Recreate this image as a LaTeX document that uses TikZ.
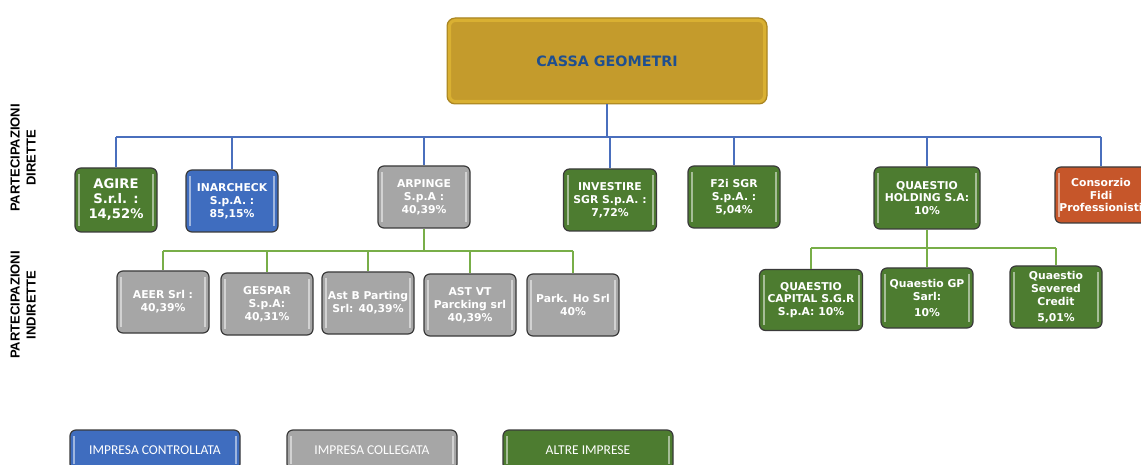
\documentclass[tikz,border=0pt]{standalone}
\usepackage{fontspec}
\setmainfont{DejaVu Sans}
\newfontfamily\legendfont{Carlito}
\newfontfamily\sidefont{Liberation Sans}
\usetikzlibrary{calc}
\definecolor{firmgreen}{HTML}{4D7C30}
\definecolor{firmblue}{HTML}{3F6DBF}
\definecolor{firmgray}{HTML}{A6A6A6}
\definecolor{firmorange}{HTML}{C6562A}
\definecolor{boxedge}{HTML}{3A3A3A}
\definecolor{cassagold}{HTML}{C49B2C}
\definecolor{cassalight}{HTML}{D9B032}
\definecolor{cassaedge}{HTML}{A8841F}
\definecolor{titleblue}{HTML}{1F4F8F}
\definecolor{linkblue}{HTML}{4A6FBD}
\definecolor{linkgreen}{HTML}{78AE48}
\tikzset{
    firm/.style = {
        draw=boxedge,
        line width=1.2pt,
        rounded corners=6pt,
        text=white,
        align=center,
        font=\bfseries\fontsize{10.8}{12.8}\selectfont,
        minimum width=92pt,
        minimum height=62pt,
        inner sep=1pt,
        path picture={
            \draw[white, opacity=0.5, line width=2pt]
              ([shift={(4pt,-6pt)}]path picture bounding box.north west) -- ([shift={(4pt,6pt)}]path picture bounding box.south west)
              ([shift={(-4pt,-6pt)}]path picture bounding box.north east) -- ([shift={(-4pt,6pt)}]path picture bounding box.south east);
        }
    },
    greenfirm/.style = {firm, fill=firmgreen},
    bluefirm/.style = {firm, fill=firmblue},
    grayfirm/.style = {firm, fill=firmgray},
    orangefirm/.style = {firm, fill=firmorange},
    legendbox/.style = {
        minimum width=170pt,
        minimum height=40pt,
        font=\legendfont\fontsize{13.5}{15}\selectfont
    },
    sidelabel/.style = {
        rotate=90,
        align=center,
        font=\sidefont\bfseries\fontsize{13}{16}\selectfont
    },
    blueline/.style = {
        linkblue,
        line width=1.5pt,
    },
    greenline/.style = {
        linkgreen,
        line width=1.5pt,
    }
}

\begin{document}
\begin{tikzpicture}[x=1pt, y=-1pt]
  \useasboundingbox (0,0) rectangle (1141,465);

  % Top level
  \node[draw=cassaedge, line width=1pt, fill=cassagold, rounded corners=8pt,
        minimum width=320pt, minimum height=86pt, text=titleblue,
        font=\bfseries\fontsize{14.3}{17}\selectfont,
        path picture={\draw[cassalight, line width=3pt, rounded corners=6pt]
          ([shift={(2.5pt,-2.5pt)}]path picture bounding box.north west) rectangle
          ([shift={(-2.5pt,2.5pt)}]path picture bounding box.south east);}]
        (cassa) at (607,61) {CASSA GEOMETRI};

  % Side labels
  \node[sidelabel] (diretteLbl) at (23,158) {PARTECIPAZIONI\\DIRETTE};
  \node[sidelabel] (indiretteLbl) at (23,305) {PARTECIPAZIONI\\INDIRETTE};

  % Direct holdings
  \node[greenfirm, minimum width=82pt, minimum height=64pt, font=\bfseries\fontsize{13.2}{15}\selectfont]
        (agire) at (116,200) {AGIRE\\S.r.l. :\\14,52\%};
  \node[bluefirm] (inarcheck) at (232,201) {INARCHECK\\S.p.A. :\\85,15\%};
  \node[grayfirm] (arpinge) at (424,197) {ARPINGE\\S.p.A :\\40,39\%};
  \node[greenfirm, minimum width=93pt] (investire) at (610,200) {INVESTIRE\\SGR S.p.A. :\\7,72\%};
  \node[greenfirm] (f2i) at (734,197) {F2i SGR\\S.p.A. :\\5,04\%};
  \node[greenfirm, minimum width=106pt] (quaestio) at (927,198) {QUAESTIO\\HOLDING S.A:\\10\%};
  \node[orangefirm, minimum height=56pt] (consorzio) at (1101,195) {Consorzio\\Fidi\\Professionisti};

  \coordinate (dirBus) at (607,137);
  \draw[blueline, line width=2.5pt] (cassa.south) -- (cassa.south |- dirBus);
  \draw[blueline] (agire.north |- dirBus) -- (consorzio.north |- dirBus);
  \foreach \firm in {agire, inarcheck, arpinge, investire, f2i, quaestio, consorzio}
    \draw[blueline] (\firm.north |- dirBus) -- (\firm.north);

  % Indirect holdings via ARPINGE
  \node[grayfirm] (aeer) at (163,302) {AEER Srl :\\40,39\%};
  \node[grayfirm] (gespar) at (267,304) {GESPAR\\S.p.A:\\40,31\%};
  \node[grayfirm] (astb) at (368,303) {Ast B Parting\\Srl: 40,39\%};
  \node[grayfirm] (astvt) at (470,305) {AST VT\\Parcking srl\\40,39\%};
  \node[grayfirm] (parkho) at (573,305) {Park. Ho Srl\\40\%};

  \coordinate (arpBus) at (424,251);
  \draw[greenline, line width=2.5pt] (arpinge.south) -- (arpinge.south |- arpBus);
  \draw[greenline] (aeer.north |- arpBus) -- (parkho.north |- arpBus);
  \foreach \firm in {aeer, gespar, astb, astvt, parkho}
    \draw[greenline] (\firm.north |- arpBus) -- (\firm.north);

  % Indirect holdings via QUAESTIO
  \node[greenfirm, minimum width=103pt, minimum height=61pt] (qcapital) at (811,300) {QUAESTIO\\CAPITAL S.G.R\\S.p.A: 10\%};
  \node[greenfirm, minimum height=60pt] (qgp) at (927,298) {Quaestio GP\\Sarl:\\[4pt]10\%};
  \node[greenfirm] (qsevered) at (1056,297) {Quaestio\\Severed\\Credit\\[3pt]5,01\%};

  \coordinate (quaBus) at (928,248);
  \draw[greenline, line width=2.5pt] (quaestio.south) -- (quaestio.south |- quaBus);
  \draw[greenline] (qcapital.north |- quaBus) -- (qsevered.north |- quaBus);
  \foreach \firm in {qcapital, qgp, qsevered}
    \draw[greenline] (\firm.north |- quaBus) -- (\firm.north);

  % Legend
  \node[bluefirm, legendbox] (legCtrl) at (155,450) {IMPRESA CONTROLLATA};
  \node[grayfirm, legendbox] (legColl) at (372,450) {IMPRESA COLLEGATA};
  \node[greenfirm, legendbox] (legAltre) at (588,450) {ALTRE IMPRESE};

\end{tikzpicture}
\end{document}
